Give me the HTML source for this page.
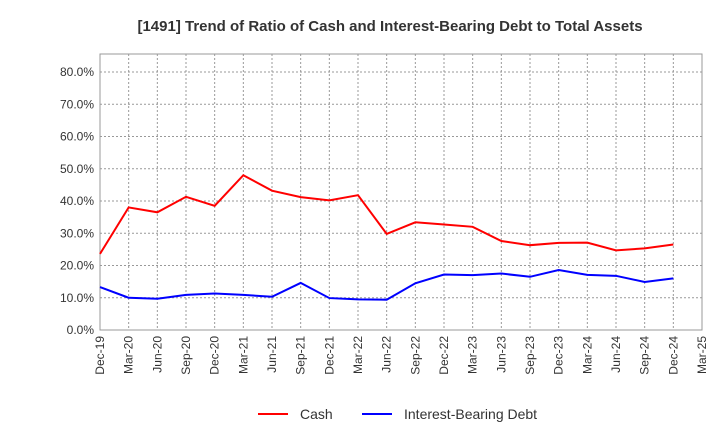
<!DOCTYPE html>
<html><head><meta charset="utf-8"><style>
body{margin:0;background:#fff;font-family:"Liberation Sans",sans-serif}
</style></head><body>
<svg id="chart" width="720" height="440" xmlns="http://www.w3.org/2000/svg" font-family="Liberation Sans, sans-serif">
<text x="390" y="31" text-anchor="middle" font-size="15" font-weight="bold" fill="#333">[1491]  Trend of Ratio of Cash and Interest-Bearing Debt to Total Assets</text>
<g id="grid"></g><g id="axes"></g><g id="series"></g>
<g>
<line x1="258" y1="414" x2="288" y2="414" stroke="#f00" stroke-width="2"/>
<text x="300" y="419" font-size="14" fill="#333">Cash</text>
<line x1="362" y1="414" x2="392" y2="414" stroke="#00f" stroke-width="2"/>
<text x="404" y="419" font-size="14" fill="#333">Interest-Bearing Debt</text>
</g>
</svg>
<script>
const categories=["Dec-19","Mar-20","Jun-20","Sep-20","Dec-20","Mar-21","Jun-21","Sep-21","Dec-21","Mar-22","Jun-22","Sep-22","Dec-22","Mar-23","Jun-23","Sep-23","Dec-23","Mar-24","Jun-24","Sep-24","Dec-24","Mar-25"];
const cash=[23.6,38.0,36.5,41.3,38.5,48.0,43.2,41.2,40.2,41.8,29.8,33.4,32.7,32.0,27.6,26.3,27.0,27.1,24.7,25.3,26.5];
const debt=[13.3,10.0,9.7,10.9,11.3,10.9,10.3,14.6,9.9,9.5,9.4,14.5,17.2,17.0,17.5,16.5,18.6,17.1,16.8,14.9,16.0];
const yTicks=[0,10,20,30,40,50,60,70,80];
const L=100,R=702,T=54,B=330;
const x=i=>L+i*(R-L)/(categories.length-1);
const y=v=>B-v*3.225;
const NS="http://www.w3.org/2000/svg";
function mk(tag,attrs,parent){const e=document.createElementNS(NS,tag);for(const k in attrs)e.setAttribute(k,attrs[k]);document.getElementById(parent).appendChild(e);return e;}
const frame=mk('rect',{x:L,y:T,width:R-L,height:B-T,fill:'none',stroke:'#999'},'axes');


yTicks.forEach(v=>{
 const g=mk('line',{x1:L,x2:R,y1:y(v),y2:y(v),stroke:'#999','stroke-dasharray':'2,2'},'grid');
 
 
 const t=mk('text',{x:L-6,y:y(v)+4,'text-anchor':'end','font-size':12,fill:'#333'},'axes');
 t.textContent=v.toFixed(1)+'%';
 
 
});
categories.forEach((c,i)=>{
 const g=mk('line',{x1:x(i),x2:x(i),y1:T,y2:B,stroke:'#999','stroke-dasharray':'2,2'},'grid');
 
 
 const t=mk('text',{x:0,y:0,'text-anchor':'end','font-size':12,fill:'#333',transform:`translate(${x(i)+4},${B+6}) rotate(-90)`},'axes');
 t.textContent=c;
 
 
});
function line(data,color,name){
 const p=mk('polyline',{points:data.map((v,i)=>x(i)+','+y(v)).join(' '),fill:'none',stroke:color,'stroke-width':2},'series');
 
 
}
line(cash,'#f00','cash-line');
line(debt,'#00f','debt-line');
</script>
</body></html>
